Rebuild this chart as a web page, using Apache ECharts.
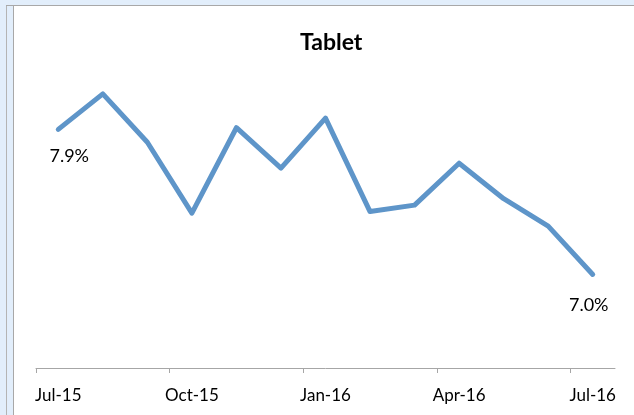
<!DOCTYPE html>
<html>
<head>
<meta charset="utf-8">
<script src="https://cdn.jsdelivr.net/npm/echarts@6/dist/echarts.min.js"></script>
<style>
  html, body { margin: 0; padding: 0; background: #fff; }
  #chart { width: 634px; height: 415px; }
</style>
</head>
<body>
<div id="chart"></div>
<script>
  // monthly tablet share, Jul-15 .. Jul-16
  var months = ['Jul-15', 'Aug-15', 'Sep-15', 'Oct-15', 'Nov-15', 'Dec-15',
    'Jan-16', 'Feb-16', 'Mar-16', 'Apr-16', 'May-16', 'Jun-16', 'Jul-16'];
  var tabletShare = [7.9, 8.12, 7.82, 7.38, 7.91, 7.66, 7.97, 7.39, 7.43, 7.69, 7.47, 7.30, 7.0];
  var shownLabels = ['Jul-15', 'Oct-15', 'Jan-16', 'Apr-16', 'Jul-16'];
  var tickBounds = [-0.5, 2.5, 5.5, 8.5, 11.5];

  var chart = echarts.init(document.getElementById('chart'));

  var lastIdx = tabletShare.length - 1;
  var seriesData = tabletShare.map(function (v, i) {
    var item = {value: v};
    if (i === 0) {
      item.label = {show: true, offset: [11, 0]};
    } else if (i === lastIdx) {
      item.label = {show: true, offset: [-4, 4]};
    }
    return item;
  });

  chart.setOption({
    backgroundColor: '#fff',
    animation: false,
    title: {
      text: 'Tablet',
      left: 295,
      top: 26,
      textStyle: {fontFamily: 'Lato', fontWeight: 'bold', fontSize: 23, color: '#000'}
    },
    grid: {left: 36, right: 19, top: 60, bottom: 47},
    xAxis: [{
      type: 'category',
      data: months,
      boundaryGap: true,
      axisLine: {lineStyle: {color: '#a6a6a6', width: 1}},
      axisTick: {show: false},
      axisLabel: {
        interval: 0,
        margin: 19,
        fontFamily: 'Lato',
        fontSize: 17,
        color: '#000',
        formatter: function (v) { return shownLabels.indexOf(v) >= 0 ? v : ''; }
      },
      splitLine: {show: false}
    }, {
      // only used to draw the tick marks on month boundaries
      type: 'value',
      position: 'bottom',
      min: -0.5,
      max: 12.5,
      axisLine: {show: false},
      axisTick: {show: true, length: 5, customValues: tickBounds, lineStyle: {color: '#a6a6a6'}},
      axisLabel: {show: false},
      splitLine: {show: false}
    }],
    yAxis: {
      type: 'value',
      min: 6.42,
      max: 8.33,
      show: false,
      splitLine: {show: false}
    },
    graphic: [
      {type: 'rect', shape: {x: 0, y: 0, width: 634, height: 5}, style: {fill: '#e2eefb'}, silent: true},
      {type: 'rect', shape: {x: 0, y: 0, width: 13, height: 415}, style: {fill: '#e2eefb'}, silent: true},
      {type: 'line', shape: {x1: 6.5, y1: 5, x2: 6.5, y2: 415}, style: {stroke: '#b4b4b4', lineWidth: 1}, silent: true},
      {type: 'line', shape: {x1: 13.5, y1: 5, x2: 13.5, y2: 415}, style: {stroke: '#a8a8a8', lineWidth: 1}, silent: true},
      {type: 'line', shape: {x1: 6, y1: 5.5, x2: 634, y2: 5.5}, style: {stroke: '#a8a8a8', lineWidth: 1}, silent: true}
    ],
    series: [{
      name: 'Tablet',
      type: 'line',
      xAxisIndex: 0,
      data: seriesData,
      symbol: 'circle',
      symbolSize: 1,
      showSymbol: true,
      smooth: false,
      lineStyle: {color: '#5e95c9', width: 5, cap: 'round', join: 'round'},
      itemStyle: {color: '#5e95c9'},
      label: {
        show: false,
        position: 'bottom',
        distance: 17,
        fontFamily: 'Lato',
        fontSize: 18,
        color: '#000',
        formatter: function (p) { return p.value.toFixed(1) + '%'; }
      }
    }]
  });
</script>
</body>
</html>
